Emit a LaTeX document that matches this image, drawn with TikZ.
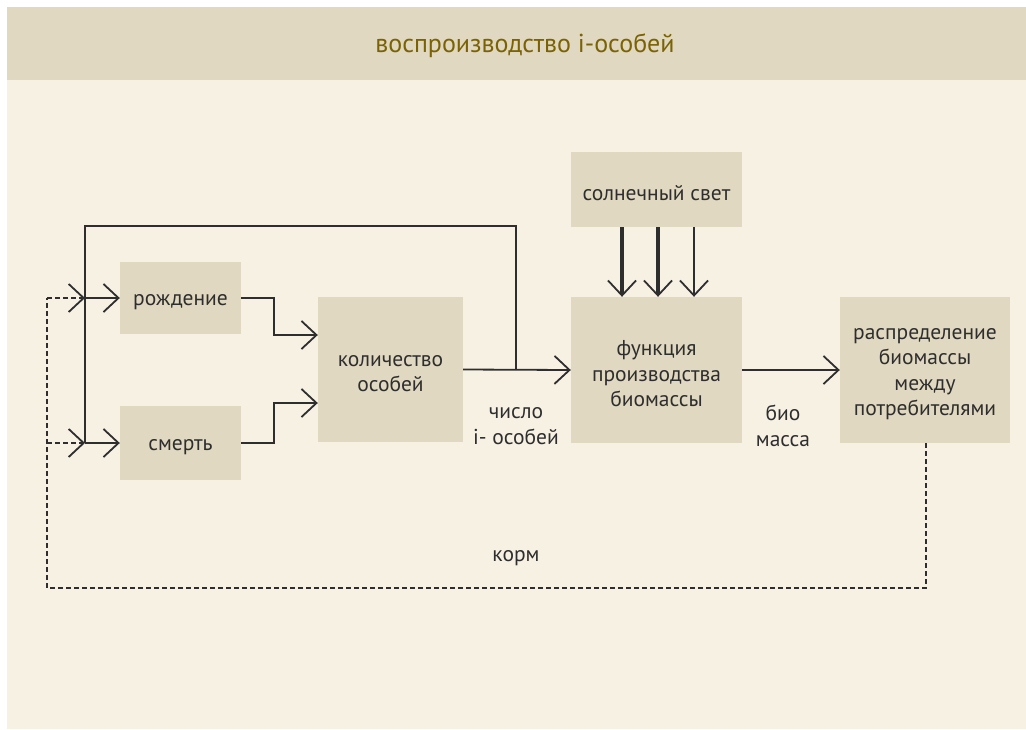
\documentclass[tikz,border=0pt]{standalone}
\usepackage{fontspec}
\setmainfont{PT Sans}
\usetikzlibrary{arrows.meta}
\definecolor{panel}{HTML}{F7F1E4}
\definecolor{band}{HTML}{E0D8C0}
\definecolor{titlecol}{HTML}{7A6205}
\definecolor{ink}{HTML}{2E2E2E}
\tikzset{
  lbl/.style={align=center, font=\fontsize{21.5}{25.5}\selectfont, text=ink},
  blk/.style={fill=band, draw=none, inner sep=0pt},
  blktext/.style={label={[lbl, yshift=-4pt]center:#1}},
  flow/.style={draw=ink, line width=1.8pt,
    -{Straight Barb[length=15pt, width=28pt, line width=1.8pt]}},
  link/.style={draw=ink, line width=1.8pt},
  feed/.style={draw=ink, line width=1.5pt, dash pattern=on 5pt off 3pt},
  feedarrow/.style={feed, -{Straight Barb[length=15pt, width=28pt, line width=1.8pt]}},
  ray/.style={draw=ink, line width=#1,
    -{Straight Barb[length=15pt, width=28pt, line width=1.8pt]}},
}
\begin{document}
\begin{tikzpicture}[x=1pt, y=-1pt]
  % page, panel and title band
  \fill[white] (0,0) rectangle (1026,729);
  \fill[panel] (7,7) rectangle (1026,729);
  \fill[band] (7,7) rectangle (1026,80);
  \node[font=\fontsize{26}{29}\selectfont, text=titlecol] (title) at (525,46) {воспроизводство i-особей};

  % blocks
  \node[blk, minimum width=121pt, minimum height=72pt, blktext={рождение}] (birth) at (180.5,298) {};
  \node[blk, minimum width=121pt, minimum height=74pt, blktext={смерть}] (death) at (180.5,443) {};
  \node[blk, minimum width=145pt, minimum height=145pt, blktext={количество\\особей}] (count) at (390.5,369.5) {};
  \node[blk, minimum width=171pt, minimum height=75pt, blktext={солнечный свет}] (sun) at (656.5,189.5) {};
  \node[blk, minimum width=171pt, minimum height=146pt, blktext={функция\\производства\\биомассы}] (prod) at (656.5,370) {};
  \node[blk, minimum width=170pt, minimum height=146pt, blktext={распределение\\биомассы\\между\\потребителями}] (distr) at (925,370) {};

  % junction points of the feedback paths
  \coordinate (jtop) at (85,226);
  \coordinate (jb) at (85,298);
  \coordinate (jd) at (85,443);
  \coordinate (tap) at (516,226);
  \coordinate (tapb) at (516,370);
  \coordinate (fl) at (47,298);
  \coordinate (fd) at (47,443);
  \coordinate (fcorner) at (47,588);
  \coordinate (fright) at (926,588);

  % number of individuals fed back to birth and death
  \draw[link] (tapb) -- (tap) -- (jtop) -- (jd);
  \draw[flow] (jb) -- (birth.west);
  \draw[flow] (jd) -- (death.west);

  % birth and death into the count
  \draw[flow] (birth.east) -- (274,298) -- (274,335) -- (count.west |- 0,335);
  \draw[flow] (death.east |- 0,443) -- (274,443) -- (274,403) -- (count.west |- 0,403);

  % main chain
  \draw[flow] (count.east) -- (prod.west);
  \draw[flow] (prod.east) -- (distr.west);

  % sunlight
  \draw[ray=3.5pt] (sun.south -| 622,0) -- (prod.north -| 622,0);
  \draw[ray=3.5pt] (sun.south -| 658,0) -- (prod.north -| 658,0);
  \draw[ray=1.6pt] (sun.south -| 694,0) -- (prod.north -| 694,0);

  % food feedback loop
  \draw[feed] (distr.south -| fright) -- (fright) -- (fcorner) -- (fl);
  \draw[feedarrow] (fl) -- (jb);
  \draw[feedarrow] (fd) -- (jd);

  % labels
  \node[lbl] (lnum) at (516,426) {число\\i- особей};
  \node[lbl] (lbio) at (783,426) {био\\масса};
  \node[lbl] (lfood) at (516,558) {корм};
\end{tikzpicture}
\end{document}
